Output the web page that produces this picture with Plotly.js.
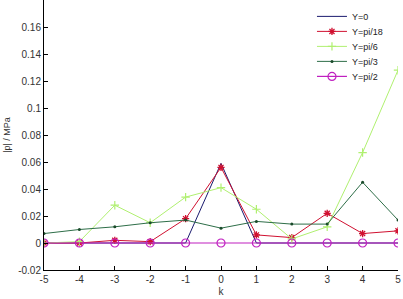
<!DOCTYPE html>
<html><head><meta charset="utf-8">
<script src="https://cdn.plot.ly/plotly-3.0.1.min.js"></script>
<style>html,body{margin:0;padding:0;background:#fff}#chart{width:403px;height:299px}</style>
</head><body><div id="chart"></div>
<script>
const k = [-5,-4,-3,-2,-1,0,1,2,3,4,5];
const seriesNames = ["Y=0","Y=pi/18","Y=pi/6","Y=pi/3","Y=pi/2"];
const y0 = [0,0,0,0,0,0.059,0,0,0,0,0];
const yPi18 = [0,0,0.002,0.001,0.018,0.056,0.006,0.004,0.022,0.007,0.009];
const yPi6 = [0,0.001,0.028,0.015,0.034,0.041,0.025,0.003,0.012,0.067,0.128];
const yPi3 = [0.007,0.010,0.012,0.015,0.017,0.011,0.016,0.014,0.014,0.045,0.017];
const yPi2 = [0,0,0,0,0,0,0,0,0,0,0];
const yTicks = [-0.02,0,0.02,0.04,0.06,0.08,0.1,0.12,0.14,0.16];
const yTickText = ["-0.02","0","0.02","0.04","0.06","0.08","0.1","0.12","0.14","0.16"];

const traces = [
  {x:k,y:y0,name:seriesNames[0],mode:"lines",line:{color:"#1a1a6e",width:1}},
  {x:k,y:yPi18,name:seriesNames[1],mode:"lines+markers",line:{color:"#d01030",width:1},marker:{symbol:"asterisk-open",size:6,line:{color:"#e01010",width:1.3}}},
  {x:k,y:yPi6,name:seriesNames[2],mode:"lines+markers",line:{color:"#b0f070",width:1},marker:{symbol:"cross-thin-open",size:6,line:{color:"#a0e860",width:1.2}}},
  {x:k,y:yPi3,name:seriesNames[3],mode:"lines+markers",line:{color:"#2e6e48",width:1},marker:{symbol:"circle",size:3,color:"#1a4a2a"}},
  {x:k,y:yPi2,name:seriesNames[4],mode:"lines+markers",line:{color:"#c020c0",width:1.2},marker:{symbol:"circle-open",size:8,line:{color:"#c020c0",width:1.2}}}
];

const layout = {
  width:403,height:299,
  margin:{l:44,r:5,t:0,b:29},
  paper_bgcolor:"#fff",plot_bgcolor:"#fff",
  font:{family:"Liberation Sans, Arial, sans-serif",size:10,color:"#333"},
  showlegend:true,
  legend:{x:0.757,y:0.993,xanchor:"left",yanchor:"top",bgcolor:"rgba(255,255,255,0)",font:{size:9,color:"#222"},itemwidth:30,tracegroupgap:0},
  xaxis:{range:[-5,5],tickvals:k,ticktext:k.map(String),ticks:"inside",ticklen:4,tickcolor:"#000",
    showline:true,linecolor:"#000",linewidth:1,showgrid:false,zeroline:false,
    title:{text:"k",font:{size:10,color:"#333"},standoff:3},automargin:false},
  yaxis:{range:[-0.02,0.18],tickvals:yTicks,ticktext:yTickText,ticks:"inside",ticklen:4,tickcolor:"#000",
    showline:true,linecolor:"#000",linewidth:1,showgrid:false,zeroline:false,
    title:{text:"|p| / MPa",font:{size:9,color:"#333"},standoff:6},automargin:false}
};
Plotly.newPlot("chart",traces,layout,{displayModeBar:false,staticPlot:true}).then(function(gd){
  // tighten legend row spacing to match the reference
  const items = gd.querySelectorAll(".legend .traces");
  const spacing = 15;
  let first = null;
  items.forEach(function(g,i){
    const t = g.getAttribute("transform") || "";
    const m = t.match(/translate\(\s*([-\d.]+)[ ,]+([-\d.]+)\s*\)/);
    if(!m) return;
    const x = parseFloat(m[1]), y = parseFloat(m[2]);
    if(first===null) first = y;
    g.setAttribute("transform","translate("+x+","+(first+i*spacing)+")");
  });
});
</script></body></html>
